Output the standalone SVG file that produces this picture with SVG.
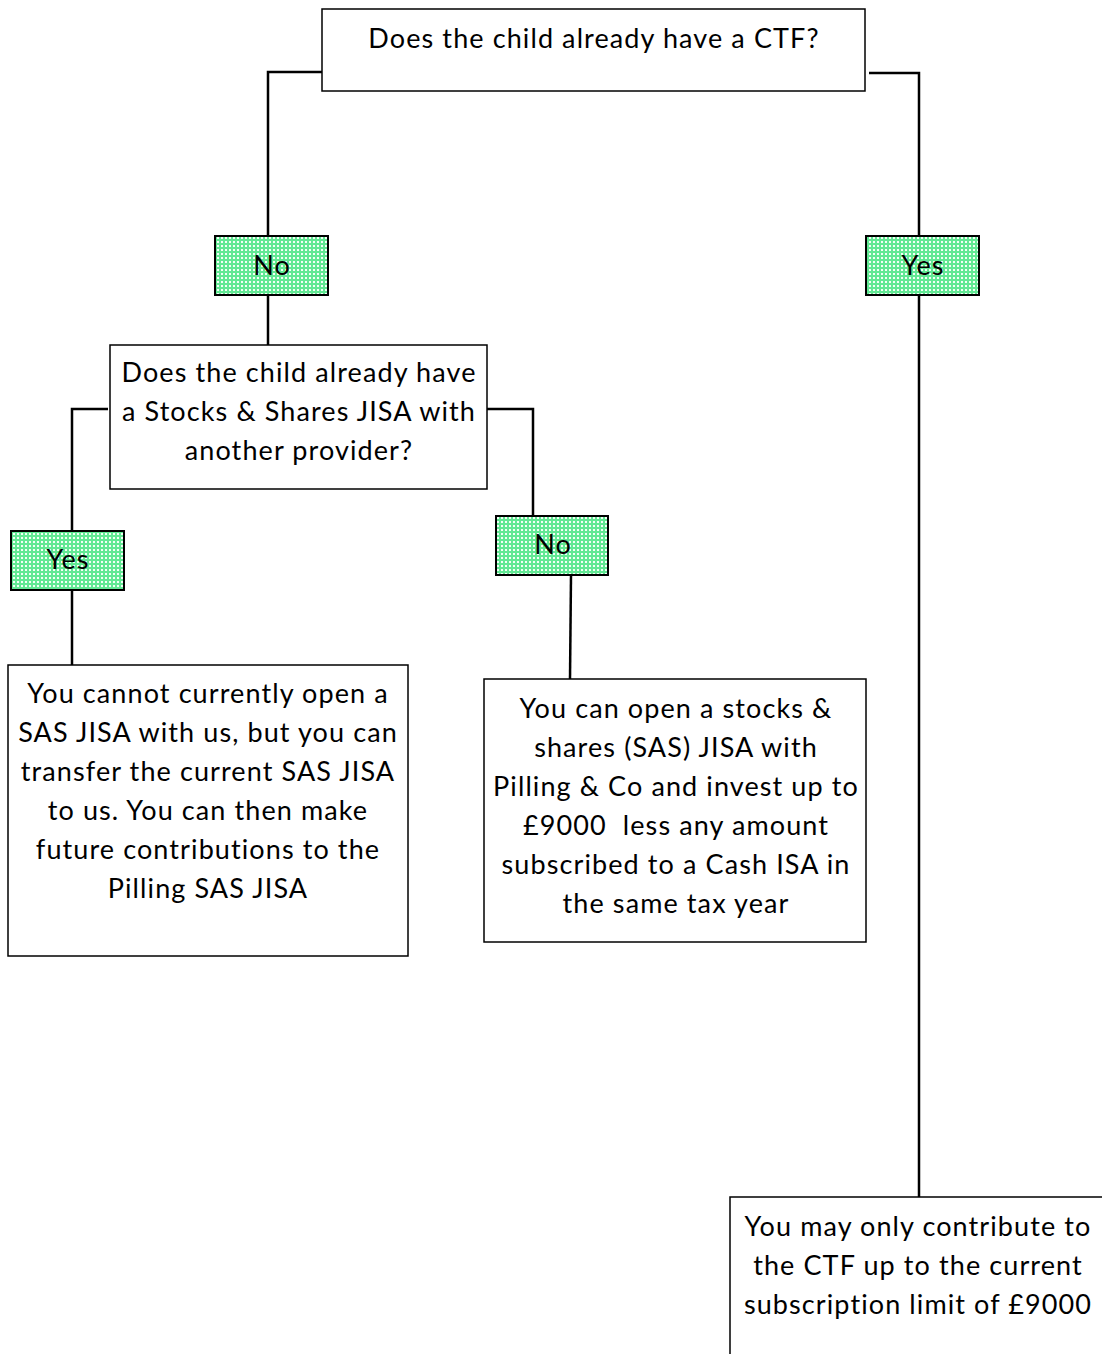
<svg xmlns="http://www.w3.org/2000/svg" width="1102" height="1354" viewBox="0 0 1102 1354">
<style>
.box{fill:#fff;stroke:#000;stroke-width:1.5}
.lbl{stroke:#000;stroke-width:2}
.t{font-family:Lato,"Open Sans","Liberation Sans",sans-serif;font-size:27px;letter-spacing:1.1px;fill:#000;text-anchor:middle}
.c{fill:none;stroke:#000;stroke-width:2.5}
</style>
<defs>
<pattern id="dots" width="4" height="4" patternUnits="userSpaceOnUse">
<rect width="4" height="4" fill="#62e894"/>
<rect x="1" y="1" width="2" height="2" fill="#f2fff6"/>
</pattern>
</defs>
<rect width="1102" height="1354" fill="#fff"/>
<g id="connectors">
<polyline class="c" points="322,72 268,72 268,236"/>
<polyline class="c" points="869,73 919,73 919,236"/>
<line class="c" x1="268" y1="295" x2="268" y2="345"/>
<polyline class="c" points="108,409 72,409 72,531"/>
<polyline class="c" points="487,409 533,409 533,516"/>
<line class="c" x1="72" y1="590" x2="72" y2="667"/>
<line class="c" x1="571" y1="575" x2="570" y2="679"/>
<line class="c" x1="919" y1="295" x2="919" y2="1197"/>
</g>
<g id="q1">
<rect class="box" x="322" y="9" width="543" height="82"/>
<text class="t" x="594" y="48">Does the child already have a CTF?</text>
</g>
<g id="no1">
<rect class="lbl" x="215" y="236" width="113" height="59" fill="url(#dots)"/>
<text class="t" x="272" y="275">No</text>
</g>
<g id="yes1">
<rect class="lbl" x="866" y="236" width="113" height="59" fill="url(#dots)"/>
<text class="t" x="923" y="275">Yes</text>
</g>
<g id="q2">
<rect class="box" x="110" y="345" width="377" height="144"/>
<text class="t" x="299" y="382">Does the child already have</text>
<text class="t" x="299" y="421">a Stocks &amp; Shares JISA with</text>
<text class="t" x="299" y="460">another provider?</text>
</g>
<g id="yes2">
<rect class="lbl" x="11" y="531" width="113" height="59" fill="url(#dots)"/>
<text class="t" x="68" y="569">Yes</text>
</g>
<g id="no2">
<rect class="lbl" x="496" y="516" width="112" height="59" fill="url(#dots)"/>
<text class="t" x="553" y="554">No</text>
</g>
<g id="r1">
<rect class="box" x="8" y="665" width="400" height="291"/>
<text class="t" x="208" y="703">You cannot currently open a</text>
<text class="t" x="208" y="742">SAS JISA with us, but you can</text>
<text class="t" x="208" y="781">transfer the current SAS JISA</text>
<text class="t" x="208" y="820">to us. You can then make</text>
<text class="t" x="208" y="859">future contributions to the</text>
<text class="t" x="208" y="898">Pilling SAS JISA</text>
</g>
<g id="r2">
<rect class="box" x="484" y="679" width="382" height="263"/>
<text class="t" x="676" y="718">You can open a stocks &amp;</text>
<text class="t" x="676" y="757">shares (SAS) JISA with</text>
<text class="t" x="676" y="796">Pilling &amp; Co and invest up to</text>
<text class="t" x="676" y="835">£9000&#160; less any amount</text>
<text class="t" x="676" y="874">subscribed to a Cash ISA in</text>
<text class="t" x="676" y="913">the same tax year</text>
</g>
<g id="r3">
<rect class="box" x="730" y="1197" width="380" height="170"/>
<text class="t" x="918" y="1236">You may only contribute to</text>
<text class="t" x="918" y="1275">the CTF up to the current</text>
<text class="t" x="918" y="1314">subscription limit of £9000</text>
</g>
</svg>
